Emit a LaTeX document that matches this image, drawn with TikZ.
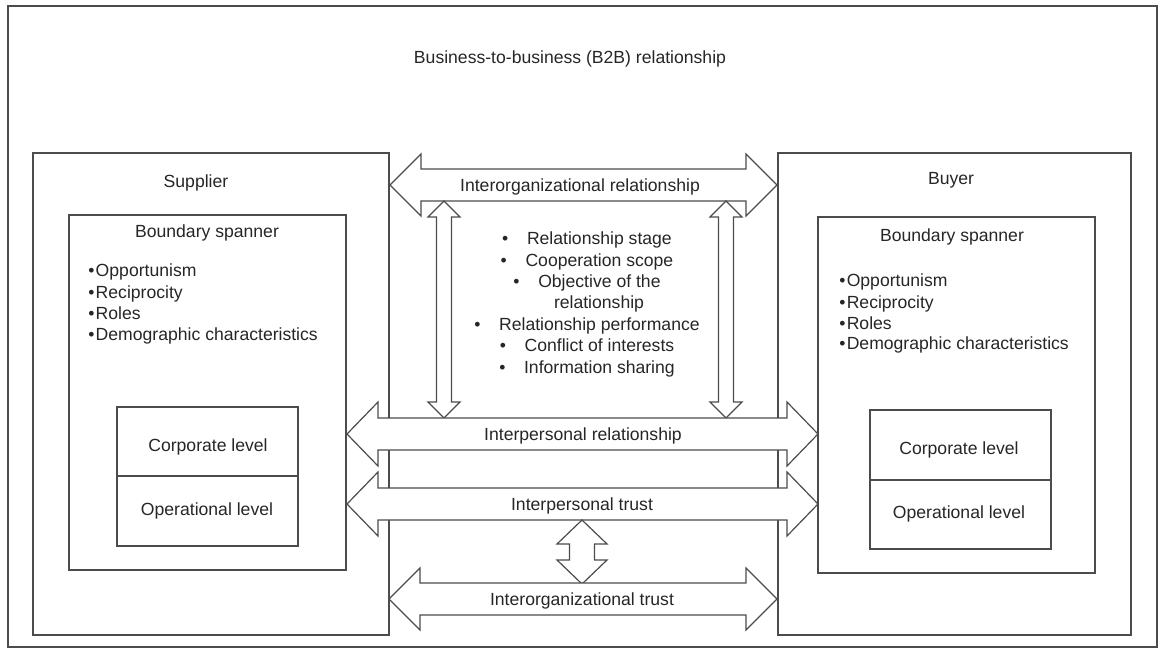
\documentclass[tikz,border=0pt]{standalone}
\usepackage{fontspec}
\setmainfont{Liberation Sans}
% horizontal double arrow: x1, x2, y, head length, shaft half-width, head half-width
\newcommand\dblh[6]{%
  \draw[arr] (#1,#3) -- ({#1+#4},{#3-#6}) -- ({#1+#4},{#3-#5}) -- ({#2-#4},{#3-#5})
    -- ({#2-#4},{#3-#6}) -- (#2,#3) -- ({#2-#4},{#3+#6}) -- ({#2-#4},{#3+#5})
    -- ({#1+#4},{#3+#5}) -- ({#1+#4},{#3+#6}) -- cycle;}
% vertical double arrow: x, y1, y2, head length, shaft half-width, head half-width
\newcommand\dblv[6]{%
  \draw[arr] (#1,#2) -- ({#1-#6},{#2+#4}) -- ({#1-#5},{#2+#4}) -- ({#1-#5},{#3-#4})
    -- ({#1-#6},{#3-#4}) -- (#1,#3) -- ({#1+#6},{#3-#4}) -- ({#1+#5},{#3-#4})
    -- ({#1+#5},{#2+#4}) -- ({#1+#6},{#2+#4}) -- cycle;}
\begin{document}
\begin{tikzpicture}[x=0.75pt,y=-0.75pt,
  box/.style={draw=black!70, line width=0.9pt},
  arr/.style={draw=black!70, line width=0.9pt, fill=white, line join=miter},
  lbl/.style={anchor=base, inner sep=0pt, text=black!85, font=\fontsize{13.2}{16}\selectfont},
  lbll/.style={lbl, anchor=base west}]
\useasboundingbox (0,0) rectangle (1159,649);
\draw[box] (8,6) rectangle (1157,647);
\node[lbl] (title) at (570,64) {Business-to-business (B2B) relationship};

% Supplier
\draw[box] (33,153) rectangle (389,635);
\draw[box] (69,215) rectangle (346,570);
\draw[box] (117,407) rectangle (298,546);
\draw[box] (117,476) -- (298,476);
\node[lbl] (sup) at (196,187) {Supplier};
\node[lbl] (supbs) at (207,237) {Boundary spanner};
\node[lbll] (sup1) at (88,276) {\textbullet\kern1pt Opportunism};
\node[lbll] (sup2) at (88,298) {\textbullet\kern1pt Reciprocity};
\node[lbll] (sup3) at (88,319) {\textbullet\kern1pt Roles};
\node[lbll] (sup4) at (88,340) {\textbullet\kern1pt Demographic characteristics};
\node[lbl] (supcorp) at (208,451) {Corporate level};
\node[lbl] (supop) at (207,515) {Operational level};

% Buyer
\draw[box] (778,153) rectangle (1131,635);
\draw[box] (818,217) rectangle (1095,573);
\draw[box] (870,410) rectangle (1051,549);
\draw[box] (870,480) -- (1051,480);
\node[lbl] (buy) at (951,185) {Buyer};
\node[lbl] (buybs) at (952,241) {Boundary spanner};
\node[lbll] (buy1) at (839,286) {\textbullet\kern1pt Opportunism};
\node[lbll] (buy2) at (839,308) {\textbullet\kern1pt Reciprocity};
\node[lbll] (buy3) at (839,329) {\textbullet\kern1pt Roles};
\node[lbll] (buy4) at (839,349) {\textbullet\kern1pt Demographic characteristics};
\node[lbl] (buycorp) at (959,454) {Corporate level};
\node[lbl] (buyop) at (959,518) {Operational level};

% arrows
\dblh{390}{777}{185}{31}{16}{31}
\node[lbl] (ior) at (580,191) {Interorganizational relationship};
\dblv{444}{201}{418}{16}{7.5}{16}
\dblv{726}{201}{418}{16}{7.5}{16}
\dblh{347}{818}{434}{31}{16}{32}
\node[lbl] (ipr) at (583,440) {Interpersonal relationship};
\dblh{347}{818}{504}{31}{16}{32}
\node[lbl] (ipt) at (582,510) {Interpersonal trust};
\dblv{582}{520}{584}{24}{12.5}{25}
\dblh{389}{777}{599}{31}{16}{31}
\node[lbl] (iot) at (582,605) {Interorganizational trust};

% middle list
\node[lbl] (m1) at (587,244) {\textbullet\hspace{14pt}Relationship stage};
\node[lbl] (m2) at (587,266) {\textbullet\hspace{14pt}Cooperation scope};
\node[lbl] (m3) at (587,287) {\textbullet\hspace{14pt}Objective of the};
\node[lbl] (m4) at (599,308) {relationship};
\node[lbl] (m5) at (587,330) {\textbullet\hspace{14pt}Relationship performance};
\node[lbl] (m6) at (587,351) {\textbullet\hspace{14pt}Conflict of interests};
\node[lbl] (m7) at (587,373) {\textbullet\hspace{14pt}Information sharing};
\end{tikzpicture}
\end{document}
